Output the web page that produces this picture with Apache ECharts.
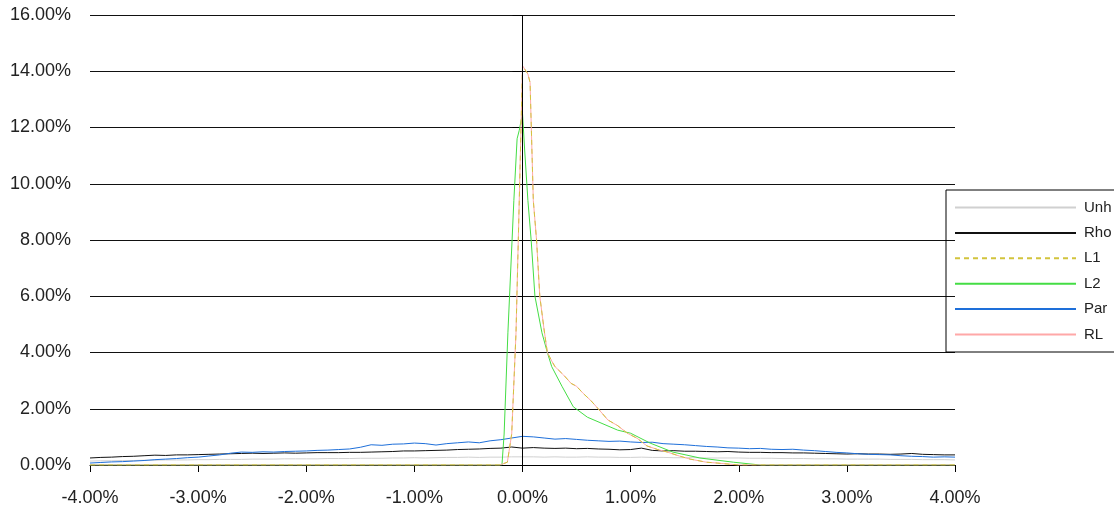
<!DOCTYPE html>
<html>
<head>
<meta charset="utf-8">
<script src="https://cdn.jsdelivr.net/npm/echarts@6/dist/echarts.min.js"></script>
<style>
  html, body { margin: 0; padding: 0; background: #fff; }
  #chart { width: 1114px; height: 508px; }
</style>
</head>
<body>
<div id="chart"></div>
<script>
// Return grid (percent), shared by the broad distributions
const gridX = [
  -4.0,-3.9,-3.8,-3.7,-3.6,-3.5,-3.4,-3.3,-3.2,-3.1,
  -3.0,-2.9,-2.8,-2.7,-2.6,-2.5,-2.4,-2.3,-2.2,-2.1,
  -2.0,-1.9,-1.8,-1.7,-1.6,-1.5,-1.4,-1.3,-1.2,-1.1,
  -1.0,-0.9,-0.8,-0.7,-0.6,-0.5,-0.4,-0.3,-0.2,-0.1,
   0.0, 0.1, 0.2, 0.3, 0.4, 0.5, 0.6, 0.7, 0.8, 0.9,
   1.0, 1.1, 1.2, 1.3, 1.4, 1.5, 1.6, 1.7, 1.8, 1.9,
   2.0, 2.1, 2.2, 2.3, 2.4, 2.5, 2.6, 2.7, 2.8, 2.9,
   3.0, 3.1, 3.2, 3.3, 3.4, 3.5, 3.6, 3.7, 3.8, 3.9,
   4.0
];

const unhY = [
  0.14,0.15,0.15,0.16,0.16,0.17,0.17,0.18,0.18,0.18,
  0.19,0.19,0.20,0.20,0.20,0.21,0.21,0.21,0.22,0.22,
  0.22,0.22,0.23,0.23,0.23,0.24,0.24,0.24,0.25,0.25,
  0.26,0.25,0.26,0.27,0.27,0.28,0.27,0.28,0.28,0.29,
  0.29,0.29,0.28,0.29,0.28,0.28,0.29,0.28,0.28,0.27,
  0.27,0.28,0.27,0.27,0.26,0.26,0.26,0.25,0.25,0.25,
  0.25,0.24,0.24,0.24,0.23,0.23,0.23,0.22,0.22,0.22,
  0.21,0.21,0.21,0.21,0.20,0.20,0.20,0.19,0.19,0.19,
  0.18
];

const rhoY = [
  0.25,0.27,0.28,0.30,0.31,0.33,0.35,0.34,0.36,0.36,
  0.37,0.38,0.39,0.40,0.41,0.42,0.41,0.42,0.43,0.42,
  0.43,0.44,0.44,0.44,0.45,0.45,0.46,0.47,0.48,0.50,
  0.50,0.51,0.52,0.53,0.55,0.56,0.57,0.59,0.60,0.64,
  0.60,0.62,0.60,0.59,0.60,0.58,0.59,0.57,0.56,0.54,
  0.55,0.60,0.52,0.50,0.51,0.49,0.49,0.48,0.47,0.48,
  0.46,0.45,0.45,0.44,0.44,0.43,0.43,0.42,0.41,0.40,
  0.39,0.40,0.39,0.39,0.38,0.39,0.41,0.38,0.37,0.36,
  0.36
];

const parY = [
  0.07,0.09,0.11,0.12,0.14,0.16,0.19,0.21,0.23,0.26,
  0.28,0.32,0.36,0.42,0.46,0.45,0.47,0.46,0.48,0.49,
  0.50,0.52,0.53,0.55,0.57,0.63,0.72,0.70,0.74,0.75,
  0.78,0.76,0.71,0.76,0.79,0.82,0.79,0.86,0.90,0.96,
  1.02,1.00,0.96,0.92,0.94,0.91,0.88,0.86,0.84,0.85,
  0.82,0.80,0.81,0.76,0.74,0.72,0.69,0.66,0.64,0.61,
  0.60,0.58,0.59,0.56,0.55,0.56,0.53,0.51,0.48,0.45,
  0.43,0.40,0.38,0.37,0.36,0.33,0.31,0.30,0.28,0.29,
  0.28
];

// Sharply peaked distributions, sampled more finely around zero
const l1X = [-4.0,-0.21,-0.14,-0.10,-0.06,-0.03,0.00,0.05,0.07,0.10,0.13,0.16,0.20,0.23,0.27,0.30,0.38,0.45,0.50,0.56,0.63,0.70,0.79,0.88,0.97,1.06,1.15,1.25,1.34,1.45,1.55,1.70,1.80,2.00,4.0];
const l1Y = [0,0,0.10,1.10,4.70,9.40,14.20,13.90,13.60,9.40,8.00,6.00,4.80,4.00,3.70,3.50,3.20,2.90,2.80,2.55,2.30,2.00,1.60,1.40,1.13,0.95,0.68,0.55,0.46,0.32,0.21,0.10,0.07,0,0];

const rlX = [-4.0,-0.21,-0.14,-0.10,-0.06,-0.03,0.00,0.05,0.07,0.10,0.13,0.16,0.20,0.23,0.27,0.30,0.38,0.45,0.50,0.56,0.63,0.70,0.79,0.88,0.97,1.06,1.15,1.25,1.34,1.45,1.55,1.70,1.80,2.00,4.0];
const rlY = [0,0,0.10,1.10,4.70,9.40,14.20,13.90,13.60,9.40,8.00,6.00,4.80,4.00,3.70,3.50,3.20,2.90,2.80,2.55,2.30,2.00,1.60,1.40,1.13,0.95,0.68,0.55,0.46,0.32,0.21,0.10,0.07,0,0];

const l2X = [-4.0,-0.19,-0.17,-0.135,-0.08,-0.05,-0.03,0.00,0.02,0.05,0.08,0.115,0.18,0.23,0.27,0.365,0.47,0.60,0.88,1.00,1.18,1.39,1.64,1.95,2.20,4.0];
const l2Y = [0,0,1.10,4.70,9.40,11.60,11.90,12.50,11.20,9.40,8.00,6.00,4.70,4.00,3.50,2.80,2.07,1.70,1.24,1.13,0.78,0.46,0.25,0.10,0,0];

const xTicks = [-4, -3, -2, -1, 0, 1, 2, 3, 4];
const yTicks = [0, 2, 4, 6, 8, 10, 12, 14, 16];

const pairs = (xs, ys) => xs.map((x, i) => [x, ys[i]]);
const pct = v => v.toFixed(2) + '%';

const chart = echarts.init(document.getElementById('chart'), null, { renderer: 'canvas' });

const baseLine = (name, xs, ys, color, extra) => Object.assign({
  name: name,
  type: 'line',
  data: pairs(xs, ys),
  symbol: 'none',
  showSymbol: false,
  smooth: false,
  lineStyle: { color: color, width: 1 },
  itemStyle: { color: color },
  emphasis: { disabled: true },
  animation: false
}, extra || {});

chart.setOption({
  animation: false,
  textStyle: { fontFamily: 'Liberation Sans, Arial, sans-serif' },
  grid: { left: 90, right: 159, top: 15, bottom: 43, containLabel: false },
  legend: {
    orient: 'vertical',
    left: 946,
    top: 190,
    data: ['Unh', 'Rho', 'L1', 'L2', 'Par', 'RL'],
    itemWidth: 121,
    itemHeight: 15,
    itemGap: 10.4,
    padding: [10, 6, 10, 8],
    borderColor: '#000',
    borderWidth: 1,
    backgroundColor: 'rgba(255,255,255,0)',
    // line-only keys: hide the marker drawn on top of each sample line
    itemStyle: { opacity: 0 },
    textStyle: { fontSize: 15, color: '#222', padding: [0, 0, 0, 3], fontFamily: 'Liberation Sans, Arial, sans-serif' }
  },
  xAxis: {
    type: 'value',
    min: xTicks[0],
    max: xTicks[xTicks.length - 1],
    interval: 1,
    axisLine: { show: true, onZero: false, lineStyle: { color: '#000', width: 1 } },
    axisTick: { show: true, length: 7, lineStyle: { color: '#000' } },
    splitLine: { show: false },
    axisLabel: { formatter: pct, fontSize: 18, color: '#222', margin: 24 }
  },
  yAxis: {
    type: 'value',
    min: yTicks[0],
    max: yTicks[yTicks.length - 1],
    interval: 2,
    axisLine: { show: false },
    axisTick: { show: true, length: 10, lineStyle: { color: '#000' } },
    splitLine: { show: true, lineStyle: { color: '#111', width: 1 } },
    axisLabel: { formatter: pct, fontSize: 18, color: '#222', margin: 19 }
  },
  series: [
    baseLine('Unh', gridX, unhY, '#d0d0d0'),
    baseLine('Rho', gridX, rhoY, '#111111', {
      markLine: {
        silent: true,
        symbol: 'none',
        animation: false,
        label: { show: false },
        lineStyle: { color: '#000', width: 1, type: 'solid' },
        data: [{ xAxis: 0 }]
      }
    }),
    baseLine('Par', gridX, parY, '#1e6fd9'),
    baseLine('L2', l2X, l2Y, '#44dd44'),
    baseLine('RL', rlX, rlY, '#ffa8a8'),
    baseLine('L1', l1X, l1Y, '#d2c43c', { lineStyle: { color: '#d2c43c', width: 1, type: [5, 4] } })
  ]
});
</script>
</body>
</html>
